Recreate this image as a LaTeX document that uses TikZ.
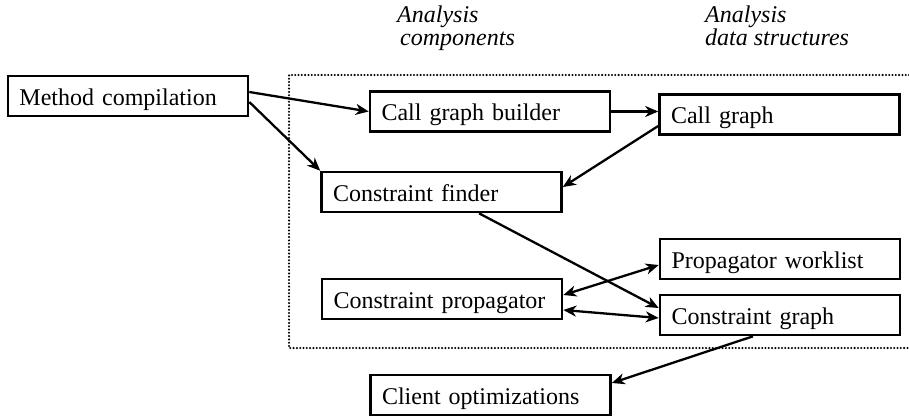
\documentclass[tikz,border=0pt]{standalone}
\usepackage{fontspec}
\setmainfont{Liberation Serif}
\usetikzlibrary{arrows.meta,calc}
\begin{document}
\begin{tikzpicture}[x=1pt,y=-1pt,
  box/.style={draw,line width=2.6pt,rectangle,minimum width=240pt,minimum height=40pt,
    text width=217pt,inner xsep=11.5pt,inner ysep=11pt,text height=18pt,text depth=0pt,
    align=left,font=\fontsize{24}{26}\selectfont},
  tip/.tip={Stealth[length=13pt,width=11pt,inset=4pt]},
  conn/.style={line width=2.3pt,-tip},
  dconn/.style={line width=2.3pt,tip-tip},
  frame/.style={line width=2.3pt,line cap=round,dash pattern=on 0pt off 3.3pt},
  lbl/.style={anchor=north west,inner sep=0pt,align=left,font=\fontsize{24}{23}\selectfont\itshape}]
\useasboundingbox (0,0) rectangle (909,418);
% frame
\draw[frame] (909,75) -- (289,75) -- (289,348) -- (909,348);
% labels
\node[lbl] (lcomp) at (397,6) {Analysis\\\hspace*{3pt}components};
\node[lbl] (ldata) at (705,6) {Analysis\\data structures};
% boxes
\node[box] (mc) at (128,96) {Method compilation};
\node[box] (cgb) at (490,111.5) {Call graph builder};
\node[box] (cg) at (779.5,114.5) {Call graph};
\node[box] (cf) at (441.5,192) {Constraint finder};
\node[box] (cp) at (442,299) {Constraint propagator};
\node[box] (pw) at (780,259) {Propagator worklist};
\node[box] (cgr) at (780,315) {Constraint graph};
\node[box] (cl) at (490.5,395) {Client optimizations};
% connectors
\draw[conn] ($(mc.east)+(0,-4)$) -- (cgb.west);
\draw[conn] ($(mc.east)+(0,6)$) -- (cf.north west);
\draw[conn] (cgb.east) -- (cg.west |- cgb.east);
\draw[conn] ($(cg.west)+(0,11.5)$) -- ($(cf.east)+(0,-5)$);
\draw[conn] ($(cf.south)+(37.5,0)$) -- ($(cgr.west)+(0,-7)$);
\draw[dconn] ($(cp.east)+(0,-4)$) -- ($(pw.west)+(0,6)$);
\draw[dconn] ($(cp.east)+(0,11)$) -- ($(cgr.west)+(0,3)$);
\draw[conn] ($(cgr.south)+(-27,0)$) -- ($(cl.east)+(0,-12)$);
\end{tikzpicture}
\end{document}
